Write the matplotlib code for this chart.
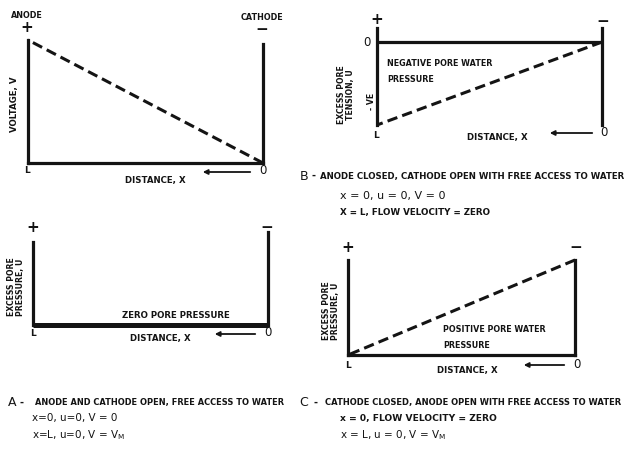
import matplotlib.pyplot as plt

# distance measured from the cathode (x = 0) to the anode (x = L)
distance = [0.0, 1.0]
voltage = [0.0, 1.0]          # panel A: V = 0 at cathode, V_M at anode
pore_open = [0.0, 0.0]        # panel A: zero pore pressure everywhere
pore_anode_closed = [0.0, -1.0]   # panel B: tension develops towards anode
pore_cathode_closed = [1.0, 0.0]  # panel C: positive pressure towards cathode

W, H = 630, 454
INK = '#141414'
plt.rcParams['font.family'] = ['DejaVu Sans']

fig = plt.figure(figsize=(W / 100, H / 100), dpi=100)
fig.patch.set_facecolor('white')


def box(x0, y0, x1, y1):
    # axes placed by its pixel box on the page
    ax = fig.add_axes([x0 / W, 1 - y1 / H, (x1 - x0) / W, (y1 - y0) / H])
    ax.set_xlim(1, 0)
    ax.set_xticks([])
    ax.set_yticks([])
    ax.patch.set_alpha(0)
    for s in ax.spines.values():
        s.set_color(INK)
        s.set_linewidth(2.3)
    ax.spines['top'].set_visible(False)
    return ax


def label(x, y, s, size=6.2, weight='bold', **kw):
    kw.setdefault('ha', 'center')
    kw.setdefault('va', 'center')
    fig.text(x / W, 1 - y / H, s, fontsize=size, fontweight=weight,
             color=INK, **kw)


def arrow(x0, x1, y):
    fig.add_artist(plt.matplotlib.patches.FancyArrowPatch(
        (x0 / W, 1 - y / H), (x1 / W, 1 - y / H), transform=fig.transFigure,
        arrowstyle='-|>', mutation_scale=7, lw=1.3, color=INK))


def axis_marks(xl, xr, y_sign, y_end, x_word, y_word):
    label(xl, y_sign, '+', size=11)
    label(xr, y_sign, '\u2212', size=11)
    label(xl, y_end, 'L', size=6.5)
    label(xr + 1, y_end - 1, '0', size=8.5, weight='normal')
    arrow(xr - 9, xr - 55, y_end)
    label(x_word, y_word, 'DISTANCE, X', size=6.2)


dash = dict(ls=(0, (3.4, 1.7)), lw=2.2, color=INK, clip_on=False)

# ---- A (top): voltage distribution
ax = box(28, 40, 263, 163)
ax.set_ylim(0, 1)
ax.spines['right'].set_bounds(0, 0.97)
ax.plot(distance, voltage, **dash)
label(27, 15, 'ANODE', size=5.8)
label(262, 17, 'CATHODE', size=5.8)
label(27, 28, '+', size=11)
label(262, 30, '\u2212', size=11)
label(27, 171, 'L', size=6.5)
label(263, 170, '0', size=8.5, weight='normal')
arrow(253, 200, 172)
label(155, 180, 'DISTANCE, X', size=6.2)
label(15, 104, 'VOLTAGE, V', size=6.2, rotation=90)

# ---- A (bottom): pore pressure, both ends open
ax = box(33, 232, 268, 325)
ax.set_ylim(0, 1)
ax.spines['bottom'].set_visible(False)
ax.spines['left'].set_bounds(0, 0.89)
ax.plot(distance, pore_open, lw=3.6, color=INK, clip_on=False,
        solid_capstyle='butt')
label(176, 316, 'ZERO PORE PRESSURE', size=6.2)
axis_marks(33, 267, 228, 334, 160, 339)
label(16, 287, 'EXCESS PORE\nPRESSURE, U', size=5.6, rotation=90,
      linespacing=0.95)

label(12, 403, 'A', size=9, weight='normal')
label(22, 403, '-', size=7)
label(35, 403, 'ANODE AND CATHODE OPEN, FREE ACCESS TO WATER', size=5.95,
      ha='left')
label(32, 418, 'x=0, u=0, V = 0', size=7.5, weight='normal', ha='left')
label(32, 435, r'x=L, u=0, V = V$_\mathregular{M}$', size=7.5,
      weight='normal', ha='left')

# ---- B: anode closed, cathode open
ax = box(377, 28, 602, 125)
ax.set_ylim(-1, 0.169)
ax.spines['bottom'].set_visible(False)
ax.axhline(0, color=INK, lw=2.3)
ax.plot(distance, pore_anode_closed, **dash)
label(377, 19, '+', size=11)
label(603, 22, '\u2212', size=11)
label(367, 43, '0', size=8.5, weight='normal')
label(376, 135, 'L', size=6.5)
label(604, 133, '0', size=8.5, weight='normal')
arrow(595, 547, 133)
label(497, 138, 'DISTANCE, X', size=6.2)
label(387, 64, 'NEGATIVE PORE WATER', size=5.8, ha='left')
label(387, 79, 'PRESSURE', size=5.8, ha='left')
label(346, 95, 'EXCESS PORE\nTENSION, U', size=5.6, rotation=90,
      linespacing=0.95)
label(371, 101, '- VE', size=5.6, rotation=90)

label(304, 176, 'B', size=9, weight='normal')
label(313, 176, '-', size=7)
label(320, 176, 'ANODE CLOSED, CATHODE OPEN WITH FREE ACCESS TO WATER',
      size=6.2, ha='left')
label(340, 196, 'x = 0, u = 0, V = 0', size=8, weight='normal', ha='left')
label(340, 213, 'X = L, FLOW VELOCITY = ZERO', size=6.3, ha='left')

# ---- C: cathode closed, anode open
ax = box(348, 260, 575, 355)
ax.set_ylim(0, 1)
ax.plot(distance, pore_cathode_closed, **dash)
label(443, 330, 'POSITIVE PORE WATER', size=5.8, ha='left')
label(443, 345, 'PRESSURE', size=5.8, ha='left')
axis_marks(348, 576, 247, 365, 467, 371)
label(331, 311, 'EXCESS PORE\nPRESSURE, U', size=5.6, rotation=90,
      linespacing=0.95)

label(304, 403, 'C', size=9, weight='normal')
label(315, 403, '-', size=7)
label(325, 403, 'CATHODE CLOSED, ANODE OPEN WITH FREE ACCESS TO WATER',
      size=6.05, ha='left')
label(340, 418, 'x = 0, FLOW VELOCITY = ZERO', size=6.6, ha='left')
label(340, 435, r'x = L, u = 0, V = V$_\mathregular{M}$', size=7.5,
      weight='normal', ha='left')

fig.savefig('out.png', dpi=100, facecolor='white')
